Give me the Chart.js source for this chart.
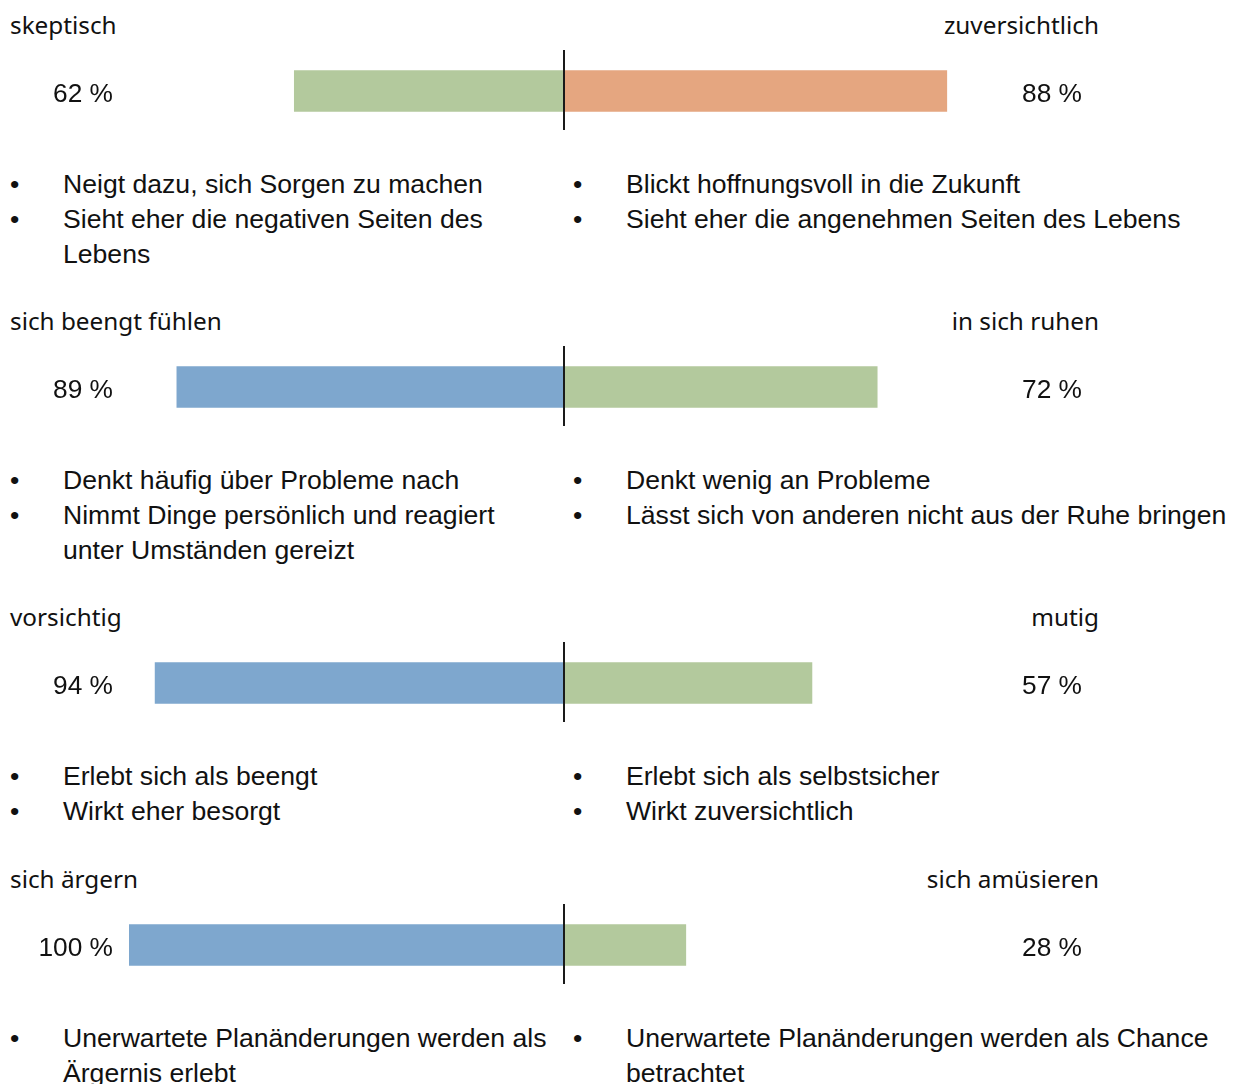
<!DOCTYPE html>
<html lang="de">
<head>
<meta charset="UTF-8">
<title>Profil</title>
<script src="https://cdn.jsdelivr.net/npm/chart.js"></script>
<style>
  body { margin: 0; background: #fff; width: 1245px; height: 1084px; overflow: hidden; position: relative; }
  .section { position: absolute; left: 0; width: 1245px; height: 260px; }
  .head { position: absolute; top: 10px; font-family: "Noto Sans", sans-serif; font-size: 24.3px; line-height: 30px; color: #111; }
  .head.left { left: 10px; }
  .head.right { right: 146px; text-align: right; }
  .bar { position: absolute; left: 0; top: 50px; width: 1245px; height: 81px; }
  .points { position: absolute; top: 167px; font-family: "Liberation Sans", Arial, sans-serif; font-size: 26.6px; line-height: 35px; color: #111; margin: 0; padding: 0; list-style: none; }
  .points li { position: relative; padding-left: 53px; white-space: pre-line; }
  .points li::before { content: "•"; position: absolute; left: 0px; }
  .points.left { left: 10px; }
  .points.right { left: 573px; }
</style>
</head>
<body>
<div id="wrap"></div>

<script>
// Werte aus dem Bild
const leftLabels  = ['skeptisch', 'sich beengt fühlen', 'vorsichtig', 'sich ärgern'];
const rightLabels = ['zuversichtlich', 'in sich ruhen', 'mutig', 'sich amüsieren'];
const leftValues  = [62, 89, 94, 100];
const rightValues = [88, 72, 57, 28];
const leftColors  = ['#B3C99D', '#7EA7CE', '#7EA7CE', '#7EA7CE'];
const rightColors = ['#E5A680', '#B3C99D', '#B3C99D', '#B3C99D'];
const leftPoints = [
    ['Neigt dazu, sich Sorgen zu machen', 'Sieht eher die negativen Seiten des\nLebens'],
    ['Denkt häufig über Probleme nach', 'Nimmt Dinge persönlich und reagiert\nunter Umständen gereizt'],
    ['Erlebt sich als beengt', 'Wirkt eher besorgt'],
    ['Unerwartete Planänderungen werden als\nÄrgernis erlebt']
];
const rightPoints = [
    ['Blickt hoffnungsvoll in die Zukunft', 'Sieht eher die angenehmen Seiten des Lebens'],
    ['Denkt wenig an Probleme', 'Lässt sich von anderen nicht aus der Ruhe bringen'],
    ['Erlebt sich als selbstsicher', 'Wirkt zuversichtlich'],
    ['Unerwartete Planänderungen werden als Chance\nbetrachtet']
];
const sectionTops = [0, 296, 592, 854];

// Mittellinie + Prozentwerte
const centerLine = {
    id: 'centerLine',
    afterDatasetsDraw(chart, args, opts) {
        const ctx = chart.ctx;
        const x = chart.scales.x.getPixelForValue(0);
        const area = chart.chartArea;
        ctx.save();
        ctx.strokeStyle = '#1a1a1a';
        ctx.lineWidth = 2;
        ctx.beginPath();
        ctx.moveTo(Math.round(x), 0);
        ctx.lineTo(Math.round(x), 80);
        ctx.stroke();
        ctx.fillStyle = '#111';
        ctx.font = '26.3px "Liberation Sans", Arial, sans-serif';
        ctx.textBaseline = 'middle';
        const yMid = 45;
        ctx.textAlign = 'right';
        ctx.fillText(opts.left + ' %', 113, yMid);
        ctx.textAlign = 'left';
        ctx.fillText(opts.right + ' %', 1022, yMid);
        ctx.restore();
    }
};

const wrap = document.getElementById('wrap');

leftLabels.forEach((lab, i) => {
    const sec = document.createElement('div');
    sec.className = 'section';
    sec.style.top = sectionTops[i] + 'px';

    const hl = document.createElement('div');
    hl.className = 'head left';
    hl.textContent = lab;
    const hr = document.createElement('div');
    hr.className = 'head right';
    hr.textContent = rightLabels[i];

    const box = document.createElement('div');
    box.className = 'bar';
    const cv = document.createElement('canvas');
    box.appendChild(cv);

    const ulL = document.createElement('ul');
    ulL.className = 'points left';
    leftPoints[i].forEach(t => { const li = document.createElement('li'); li.textContent = t; ulL.appendChild(li); });
    const ulR = document.createElement('ul');
    ulR.className = 'points right';
    rightPoints[i].forEach(t => { const li = document.createElement('li'); li.textContent = t; ulR.appendChild(li); });

    sec.append(hl, hr, box, ulL, ulR);
    wrap.appendChild(sec);

    new Chart(cv, {
        type: 'bar',
        data: {
            labels: [lab],
            datasets: [
                { data: [-leftValues[i]], backgroundColor: leftColors[i], barThickness: 41 },
                { data: [rightValues[i]], backgroundColor: rightColors[i], barThickness: 41 }
            ]
        },
        options: {
            indexAxis: 'y',
            responsive: true,
            maintainAspectRatio: false,
            animation: false,
            layout: { padding: { left: 129, right: 246, top: 1, bottom: 0 } },
            scales: {
                x: { stacked: true, min: -100, max: 100, display: false },
                y: { stacked: true, display: false }
            },
            plugins: {
                legend: { display: false },
                tooltip: { enabled: false },
                centerLine: { left: leftValues[i], right: rightValues[i] }
            }
        },
        plugins: [centerLine]
    });
});
</script>
</body>
</html>
